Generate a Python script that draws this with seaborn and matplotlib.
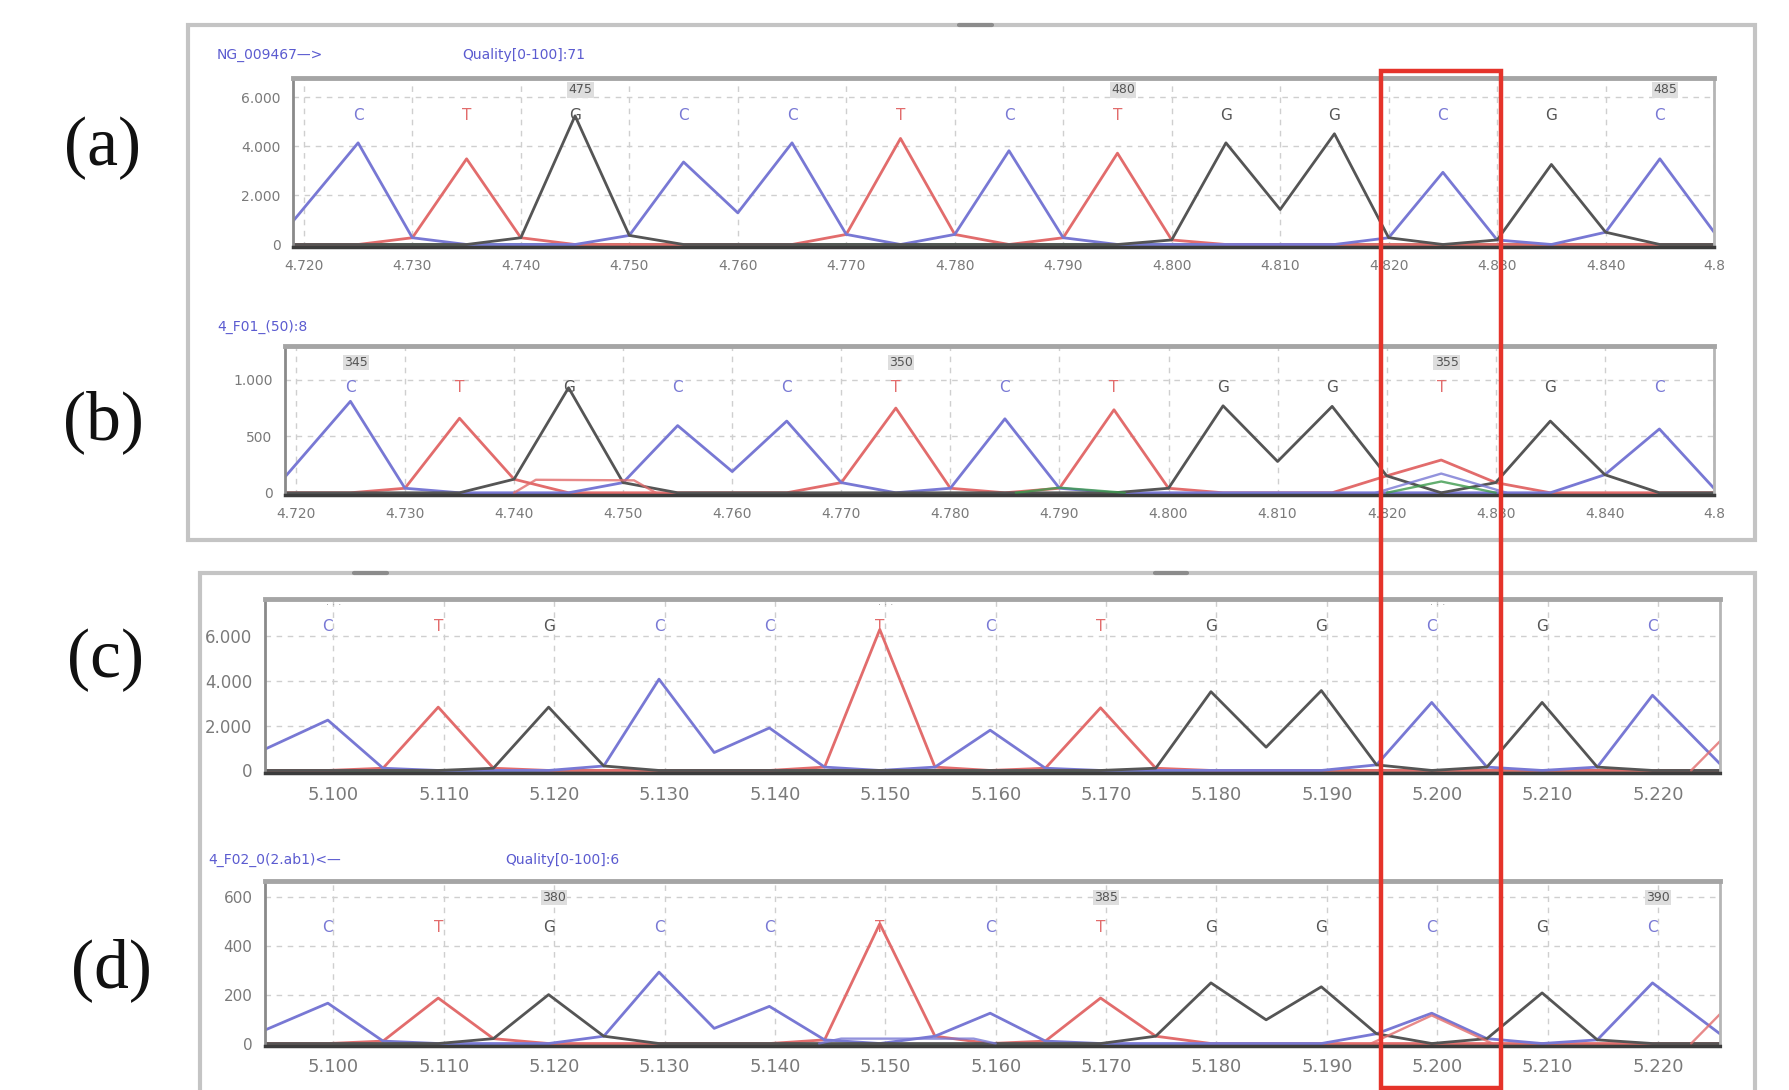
import matplotlib
matplotlib.use("Agg")
import matplotlib.pyplot as plt
import matplotlib.patches as patches
import matplotlib.transforms as mtransforms
import seaborn as sns

# ---- data ----
# upper run, panels (a) and (b)
bases_a = list("CTGCCTCTGGCGC")
pos_a = [4725, 4735, 4745, 4755, 4765, 4775, 4785, 4795, 4805, 4815, 4825, 4835, 4845]
heights_a = [4140, 3490, 5240, 3360, 4140, 4320, 3820, 3720, 4140, 4510, 2940, 3260, 3490]
# left edge, troughs between neighbouring peaks, right edge
troughs_a = [950, 275, 275, 370, 1290, 410, 410, 275, 185, 1425, 275, 185, 500, 500]
numbers_a = ["475", "480", "485"]
numbers_a_at = [2, 7, 12]

bases_b = list("CTGCCTCTGGTGC")
pos_b = pos_a
heights_b = [810, 660, 930, 595, 635, 750, 655, 735, 770, 765, 290, 635, 565]
troughs_b = [140, 40, 120, 90, 188, 90, 40, 40, 40, 277, 150, 90, 160, 40]
numbers_b = ["345", "350", "355"]
numbers_b_at = [0, 5, 10]
# small secondary traces (channel, x, y)
extra_b = [
    ("T", [4740, 4742, 4751, 4753], [0, 115, 110, 0]),
    ("C", [4819, 4825, 4831], [0, 170, 0]),
    ("A", [4820, 4825, 4830], [0, 100, 0]),
    ("A", [4786, 4790, 4796], [0, 45, 0]),
]

# lower run, panels (c) and (d)
bases_c = list("CTGCCTCTGGCGC")
pos_c = [5099.5, 5109.5, 5119.5, 5129.5, 5139.5, 5149.5, 5159.5, 5169.5, 5179.5, 5189.5, 5199.5, 5209.5, 5219.5]
heights_c = [2250, 2830, 2830, 4080, 1900, 6300, 1800, 2800, 3520, 3570, 3040, 3040, 3360]
troughs_c = [950, 100, 100, 200, 800, 150, 150, 100, 100, 1040, 250, 150, 150, 300]
extra_c = [("T", [5223, 5228], [0, 2500])]

bases_d = bases_c
pos_d = pos_c
heights_d = [165, 186, 200, 292, 152, 490, 124, 186, 248, 232, 124, 207, 248]
troughs_d = [55, 10, 20, 30, 62, 15, 30, 10, 30, 97, 40, 20, 15, 40]
numbers_d = ["380", "385", "390"]
numbers_d_at = [2, 7, 12]
extra_d = [
    ("T", [5194, 5199.5, 5205], [0, 115, 0]),
    ("T", [5223, 5228], [0, 230]),
    ("C", [5144, 5146, 5158, 5160], [0, 20, 20, 0]),
]

xticks_ab = [4720, 4730, 4740, 4750, 4760, 4770, 4780, 4790, 4800, 4810, 4820, 4830, 4840, 4850]
xlabels_ab = ["4.720", "4.730", "4.740", "4.750", "4.760", "4.770", "4.780", "4.790",
              "4.800", "4.810", "4.820", "4.830", "4.840", "4.8"]
xticks_cd = [5100, 5110, 5120, 5130, 5140, 5150, 5160, 5170, 5180, 5190, 5200, 5210, 5220]
xlabels_cd = ["5.100", "5.110", "5.120", "5.130", "5.140", "5.150", "5.160", "5.170",
              "5.180", "5.190", "5.200", "5.210", "5.220"]

yticks_a, ylabels_a = [0, 2000, 4000, 6000], ["0", "2.000", "4.000", "6.000"]
yticks_b, ylabels_b = [0, 500, 1000], ["0", "500", "1.000"]
yticks_c, ylabels_c = [0, 2000, 4000, 6000], ["0", "2.000", "4.000", "6.000"]
yticks_d, ylabels_d = [0, 200, 400, 600], ["0", "200", "400", "600"]

colors = {"A": "#3c9a4c", "C": "#7878d4", "G": "#555555", "T": "#e26c6c"}

sns.set_style("white")
plt.rcParams["font.family"] = ["DejaVu Sans"]

fig = plt.figure(figsize=(17.9, 10.9), dpi=100)


def trace(ch, bases, pos, heights, troughs, x0, x1):
    xs = [x0]
    ys = [troughs[0] if bases[0] == ch else 0]
    n = len(bases)
    for i in range(n):
        xs.append(pos[i])
        ys.append(heights[i] if bases[i] == ch else 0)
        if i < n - 1:
            xs.append((pos[i] + pos[i + 1]) / 2)
            ys.append(troughs[i + 1] if (bases[i] == ch or bases[i + 1] == ch) else 0)
    xs.append(x1)
    ys.append(troughs[-1] if bases[-1] == ch else 0)
    return xs, ys


def panel(rect, bases, pos, heights, troughs, xlim, ylim, xticks, xlabels, yticks, ylabels,
          letter_y, numbers=None, numbers_at=None, num_y=0.93, extra=(), xsize=10, ysize=10):
    ax = fig.add_axes(rect)
    for ch in ["A", "T", "C", "G"]:
        xs, ys = trace(ch, bases, pos, heights, troughs, xlim[0], xlim[1])
        sns.lineplot(x=xs, y=ys, ax=ax, color=colors[ch], lw=2, estimator=None, sort=False)
    for ch, ex, ey in extra:
        sns.lineplot(x=ex, y=ey, ax=ax, color=colors[ch], lw=1.7, estimator=None, sort=False, alpha=0.8)
    ax.set_xlim(*xlim)
    ax.set_ylim(-0.015 * ylim, ylim)
    ax.set_xticks(xticks)
    ax.set_xticklabels(xlabels)
    ax.set_yticks(yticks)
    ax.set_yticklabels(ylabels)
    ax.tick_params(axis="both", labelcolor="#7a7a7a", length=0, pad=9)
    ax.tick_params(axis="x", labelsize=xsize)
    ax.tick_params(axis="y", labelsize=ysize)
    ax.grid(True, ls=(0, (4, 4)), color="#cfcfcf", lw=1)
    ax.spines["top"].set_color("#a5a5a5")
    ax.spines["top"].set_linewidth(3.5)
    ax.spines["left"].set_color("#8a8a8a")
    ax.spines["left"].set_linewidth(2)
    ax.spines["right"].set_color("#b5b5b5")
    ax.spines["right"].set_linewidth(2)
    ax.spines["bottom"].set_color("#3c3c3c")
    ax.spines["bottom"].set_linewidth(2.5)
    ax.spines["bottom"].set_linestyle((0, (2, 1)))
    trans = mtransforms.blended_transform_factory(ax.transData, ax.transAxes)
    for b, p in zip(bases, pos):
        ax.text(p, letter_y, b, transform=trans, ha="center", va="center",
                fontsize=11, color=colors[b])
    if numbers:
        for t, i in zip(numbers, numbers_at):
            ax.text(pos[i] + 0.5, num_y, t, transform=trans, ha="center", va="center",
                    fontsize=9, color="#555555",
                    bbox=dict(boxstyle="square,pad=0.1", fc="#dedede", ec="none"))
    return ax


# outer frames
fig.add_artist(patches.Rectangle((0.105, 0.5046), 0.8754, 0.4725, transform=fig.transFigure,
                                 fill=False, ec="#c4c4c4", lw=3))
fig.add_artist(patches.Rectangle((0.1117, -0.01), 0.8687, 0.4843, transform=fig.transFigure,
                                 fill=False, ec="#c4c4c4", lw=3))
for x0 in [0.536, 0.198, 0.645]:
    yy = 0.977 if x0 == 0.536 else 0.474
    fig.add_artist(plt.Line2D([x0, x0 + 0.018], [yy, yy], transform=fig.transFigure,
                              color="#8c8c8c", lw=3))

panel([0.1637, 0.7734, 0.7939, 0.1550], bases_a, pos_a, heights_a, troughs_a,
      (4719, 4850), 6780, xticks_ab, xlabels_ab, yticks_a, ylabels_a,
      letter_y=0.78, numbers=numbers_a, numbers_at=numbers_a_at, num_y=0.93)
panel([0.1592, 0.5459, 0.7983, 0.1367], bases_b, pos_b, heights_b, troughs_b,
      (4719, 4850), 1300, xticks_ab, xlabels_ab, yticks_b, ylabels_b,
      letter_y=0.72, numbers=numbers_b, numbers_at=numbers_b_at, num_y=0.89, extra=extra_b)
ax_c = panel([0.1480, 0.2908, 0.8128, 0.1596], bases_c, pos_c, heights_c, troughs_c,
             (5093.8, 5225.6), 7660, xticks_cd, xlabels_cd, yticks_c, ylabels_c,
             letter_y=0.84, extra=extra_c, xsize=13, ysize=12)
trans_c = mtransforms.blended_transform_factory(ax_c.transData, ax_c.transAxes)
for i in [0, 5, 10]:
    ax_c.text(pos_c[i] + 0.5, 0.965, "· · ·", transform=trans_c, ha="center", va="center",
              fontsize=7, color="#9a9a9a")
panel([0.1480, 0.0404, 0.8128, 0.1514], bases_d, pos_d, heights_d, troughs_d,
      (5093.8, 5225.6), 665, xticks_cd, xlabels_cd, yticks_d, ylabels_d,
      letter_y=0.72, numbers=numbers_d, numbers_at=numbers_d_at, num_y=0.90, extra=extra_d,
      xsize=13, ysize=11)

# run names
name_kw = dict(fontsize=10, color="#5b5bd0", va="center")
fig.text(217 / 1790, 1 - 55 / 1090, "NG_009467—>", **name_kw)
fig.text(462 / 1790, 1 - 55 / 1090, "Quality[0-100]:71", **name_kw)
fig.text(217 / 1790, 1 - 327 / 1090, "4_F01_(50):8", **name_kw)
fig.text(208 / 1790, 1 - 860 / 1090, "4_F02_0(2.ab1)<—", **name_kw)
fig.text(505 / 1790, 1 - 860 / 1090, "Quality[0-100]:6", **name_kw)

# panel letters
for lab, (px, py) in zip(["(a)", "(b)", "(c)", "(d)"],
                         [(103, 148), (103, 422), (106, 660), (111, 970)]):
    fig.text(px / 1790, 1 - py / 1090, lab, fontsize=50, family="Liberation Serif",
             ha="center", va="center", color="#111111")

# highlighted column
fig.add_artist(patches.Rectangle((1381 / 1790, 2 / 1090), 120 / 1790, (1088 - 71) / 1090,
                                 transform=fig.transFigure, fill=False, ec="#e5332a", lw=3.2))

fig.savefig("out.png", dpi=100)
